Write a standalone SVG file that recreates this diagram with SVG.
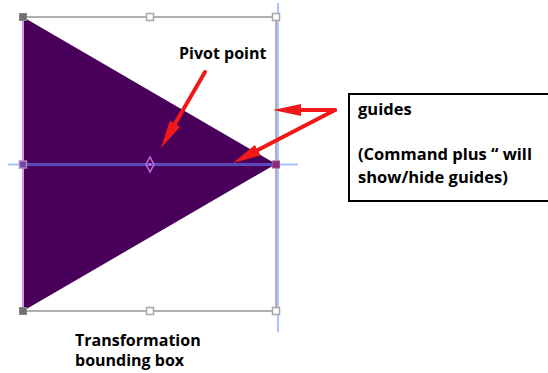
<svg xmlns="http://www.w3.org/2000/svg" width="548" height="373" viewBox="0 0 548 373">
<style>
.lbl{font-family:"Open Sans","Liberation Sans",sans-serif;font-weight:700;font-size:16px;fill:#000}
.note{font-size:16.5px}
.handle{fill:#fff;stroke:#a8a8a8;stroke-width:1.5}
.arrow{stroke:#f01818;stroke-width:4;fill:none;stroke-linecap:round;stroke-linejoin:round}
.guide{stroke:#a9c5ff;stroke-width:2}
</style>
<defs>
<marker id="ah" markerWidth="7" markerHeight="3" refX="4" refY="1.5" orient="auto" markerUnits="strokeWidth">
<path d="M0,0 L7,1.5 L0,3 Z" fill="#f01818"/>
</marker>
</defs>
<rect width="548" height="373" fill="#fff"/>
<g id="shape">
<rect x="23" y="17" width="253" height="294" fill="none" stroke="#b0b0b0" stroke-width="2"/>
<polygon points="23,17 276,164 23,311" fill="#48005a"/>
<line x1="23" y1="17" x2="23" y2="311" stroke="#c8a0e0" stroke-width="2"/>
</g>
<g id="guides">
<line class="guide" x1="278" y1="3" x2="278" y2="332"/>
<line class="guide" x1="8" y1="164.5" x2="298" y2="164.5"/>
<line x1="23" y1="164.5" x2="274" y2="164.5" stroke="#5040c0" stroke-width="2"/>
</g>
<g id="handles">
<rect x="19.5" y="13.5" width="7" height="7" fill="#707070" stroke="#888"/>
<rect class="handle" x="146.5" y="13.5" width="7" height="7"/>
<rect class="handle" x="272.5" y="13.5" width="7" height="7"/>
<rect x="19.5" y="307.5" width="7" height="7" fill="#707070" stroke="#888"/>
<rect class="handle" x="146.5" y="307.5" width="7" height="7"/>
<rect class="handle" x="272.5" y="307.5" width="7" height="7"/>
<rect x="19.5" y="161" width="7" height="7" fill="#6a4a9a" stroke="#b080d0" stroke-width="1.5"/>
<rect x="272.5" y="161" width="7" height="7" fill="#8a2a7a" stroke="#a05090" stroke-width="1"/>
</g>
<g id="pivot">
<path d="M150,157 L154,164.5 L150,172 L146,164.5 Z" fill="none" stroke="#c070e0" stroke-width="1.5"/>
<circle cx="150" cy="164.5" r="1.5" fill="#c070e0"/>
</g>
<g id="pivot-label">
<text class="lbl" x="179" y="59">Pivot point</text>
</g>
<g id="guides-note">
<rect x="349" y="94" width="204" height="107" fill="#fff" stroke="#000" stroke-width="2"/>
<text class="lbl note" x="358" y="115">guides</text>
<text class="lbl note" x="358" y="160">(Command plus “ will</text>
<text class="lbl note" x="358" y="183">show/hide guides)</text>
</g>
<g id="bbox-label">
<text class="lbl" x="75" y="346">Transformation</text>
<text class="lbl" x="75" y="366">bounding box</text>
</g>
<g id="connectors">
<line class="arrow" x1="205" y1="72" x2="167" y2="137.6" marker-end="url(#ah)"/>
<line class="arrow" x1="335" y1="110" x2="243.6" y2="157.5" marker-end="url(#ah)"/>
<line class="arrow" x1="335" y1="110" x2="285" y2="110" marker-end="url(#ah)"/>
</g>
</svg>
